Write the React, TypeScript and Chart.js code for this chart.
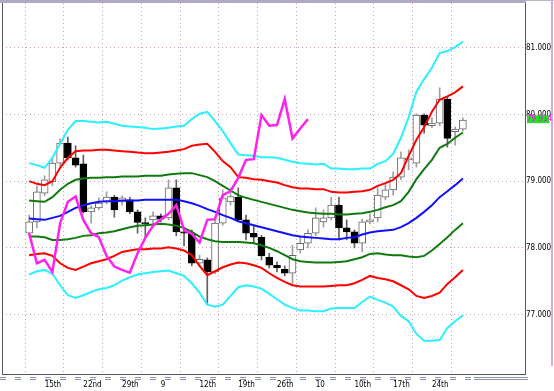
import React, { useEffect, useRef } from "react";
import { Chart, registerables } from "chart.js";

Chart.register(...registerables);

// week ticks (candle index of each Monday) and their labels
const tickIndex = [2, 7, 12, 17, 22, 27, 32, 37, 42, 47, 52];
const tickLabels = ["15th", "22nd", "29th", "9", "12th", "19th", "26th", "10", "10th", "17th", "24th"];
const yTicks = [77, 78, 79, 80, 81];

// daily candles
const opens = [78.22, 78.39, 78.82, 78.99, 79.27, 79.57, 79.35, 79.26, 78.54, 78.60, 78.69, 78.76, 78.69, 78.72, 78.54, 78.38, 78.42, 78.48, 78.45, 78.90,
  78.24, 78.22, 77.77, 77.82, 77.64, 78.37, 78.69, 78.76, 78.42, 78.22, 78.16, 77.86, 77.74, 77.68, 77.62, 77.97, 78.07, 78.22, 78.39, 78.45,
  78.64, 78.30, 78.24, 78.07, 78.39, 78.45, 78.76, 78.87, 79.06, 79.32, 79.27, 79.99, 79.83, 79.87, 80.23, 79.74, 79.78];
const highs = [78.49, 78.93, 79.08, 79.35, 79.63, 79.66, 79.53, 79.39, 78.63, 78.75, 78.84, 78.79, 78.78, 78.76, 78.57, 78.45, 78.54, 78.51, 79.02, 79.02,
  78.30, 78.27, 77.89, 77.85, 78.46, 78.87, 78.90, 78.90, 78.49, 78.33, 78.19, 77.92, 77.79, 77.73, 78.04, 78.16, 78.27, 78.60, 78.57, 78.76,
  78.76, 78.42, 78.27, 78.43, 78.51, 78.90, 78.97, 79.14, 79.44, 79.47, 80.01, 80.01, 79.95, 80.40, 80.26, 79.81, 79.95];
const lows = [78.18, 78.30, 78.78, 78.93, 79.23, 79.32, 79.21, 78.52, 78.37, 78.57, 78.66, 78.46, 78.64, 78.51, 78.22, 78.15, 78.36, 78.39, 78.42, 78.18,
  78.03, 77.73, 77.73, 77.15, 77.61, 78.34, 78.64, 78.39, 78.12, 78.07, 77.82, 77.70, 77.64, 77.58, 77.44, 77.92, 78.00, 78.18, 78.31, 78.42,
  78.12, 78.12, 78.00, 77.94, 78.36, 78.39, 78.72, 78.79, 79.02, 79.17, 79.21, 79.72, 79.80, 79.83, 79.51, 79.54, 79.75];
const closes = [78.39, 78.84, 79.02, 79.27, 79.57, 79.35, 79.24, 78.54, 78.60, 78.67, 78.76, 78.57, 78.75, 78.54, 78.38, 78.36, 78.48, 78.43, 78.90, 78.24,
  78.22, 77.77, 77.83, 77.64, 78.37, 78.75, 78.77, 78.42, 78.22, 78.16, 77.88, 77.74, 77.70, 77.62, 77.89, 78.07, 78.22, 78.45, 78.45, 78.64,
  78.30, 78.24, 78.07, 78.39, 78.42, 78.79, 78.87, 79.06, 79.35, 79.35, 79.99, 79.84, 79.87, 80.23, 79.64, 79.78, 79.914];

// bands
const plus3 = [79.27, 79.24, 79.20, 79.35, 79.56, 79.77, 79.90, 79.90, 79.89, 79.88, 79.89, 79.86, 79.83, 79.82, 79.81, 79.80, 79.78, 79.79, 79.80, 79.82,
  79.83, 79.93, 80.01, 80.04, 79.90, 79.75, 79.57, 79.40, 79.39, 79.38, 79.36, 79.36, 79.35, 79.32, 79.29, 79.27, 79.26, 79.25, 79.26, 79.19,
  79.19, 79.18, 79.18, 79.19, 79.19, 79.26, 79.30, 79.41, 79.65, 79.96, 80.34, 80.53, 80.70, 80.92, 80.95, 81.01, 81.09];
const plus2 = [79.00, 78.96, 78.94, 79.00, 79.20, 79.35, 79.45, 79.46, 79.46, 79.47, 79.47, 79.46, 79.45, 79.44, 79.43, 79.42, 79.42, 79.43, 79.44, 79.46,
  79.48, 79.53, 79.55, 79.56, 79.44, 79.30, 79.21, 79.06, 79.05, 79.03, 79.02, 79.00, 78.98, 78.94, 78.91, 78.89, 78.89, 78.88, 78.88, 78.84,
  78.83, 78.83, 78.84, 78.85, 78.87, 78.93, 78.97, 79.02, 79.12, 79.38, 79.62, 79.81, 80.04, 80.22, 80.27, 80.33, 80.42];
const plus1 = [78.71, 78.70, 78.69, 78.76, 78.87, 78.96, 79.02, 79.04, 79.05, 79.05, 79.06, 79.06, 79.07, 79.07, 79.07, 79.08, 79.08, 79.08, 79.10, 79.11,
  79.12, 79.12, 79.09, 79.06, 79.00, 78.93, 78.86, 78.79, 78.75, 78.72, 78.69, 78.66, 78.63, 78.60, 78.57, 78.55, 78.53, 78.52, 78.51, 78.51,
  78.50, 78.50, 78.51, 78.52, 78.54, 78.57, 78.61, 78.64, 78.70, 78.84, 79.03, 79.18, 79.32, 79.50, 79.56, 79.65, 79.73];
const middle = [78.44, 78.43, 78.42, 78.45, 78.48, 78.54, 78.60, 78.64, 78.67, 78.69, 78.70, 78.70, 78.71, 78.71, 78.71, 78.72, 78.72, 78.72, 78.72, 78.72,
  78.70, 78.67, 78.63, 78.58, 78.54, 78.49, 78.45, 78.40, 78.37, 78.34, 78.31, 78.28, 78.25, 78.22, 78.19, 78.17, 78.16, 78.15, 78.14, 78.13,
  78.13, 78.15, 78.16, 78.20, 78.23, 78.25, 78.26, 78.27, 78.31, 78.37, 78.45, 78.54, 78.64, 78.76, 78.85, 78.94, 79.04];
const minus1 = [78.17, 78.17, 78.16, 78.12, 78.12, 78.13, 78.15, 78.18, 78.19, 78.22, 78.23, 78.25, 78.28, 78.31, 78.33, 78.34, 78.35, 78.36, 78.35, 78.33,
  78.30, 78.24, 78.17, 78.13, 78.10, 78.09, 78.09, 78.09, 78.08, 78.07, 78.04, 78.00, 77.95, 77.89, 77.83, 77.80, 77.79, 77.78, 77.78, 77.78,
  77.79, 77.80, 77.83, 77.86, 77.91, 77.92, 77.90, 77.89, 77.89, 77.87, 77.86, 77.88, 77.96, 78.06, 78.16, 78.27, 78.37];
const minus2 = [77.89, 77.91, 77.92, 77.88, 77.77, 77.70, 77.67, 77.72, 77.77, 77.80, 77.83, 77.88, 77.94, 77.96, 77.98, 77.98, 77.99, 77.99, 78.01, 77.99,
  77.96, 77.89, 77.73, 77.59, 77.65, 77.71, 77.75, 77.78, 77.77, 77.74, 77.70, 77.62, 77.55, 77.49, 77.44, 77.42, 77.42, 77.42, 77.42, 77.43,
  77.44, 77.44, 77.47, 77.52, 77.58, 77.55, 77.53, 77.50, 77.44, 77.38, 77.28, 77.25, 77.28, 77.33, 77.46, 77.56, 77.67];
const minus3 = [77.60, 77.65, 77.67, 77.61, 77.44, 77.29, 77.25, 77.29, 77.34, 77.38, 77.40, 77.44, 77.51, 77.56, 77.60, 77.62, 77.64, 77.65, 77.66, 77.62,
  77.58, 77.47, 77.33, 77.15, 77.12, 77.15, 77.28, 77.41, 77.44, 77.42, 77.39, 77.31, 77.23, 77.15, 77.10, 77.06, 77.06, 77.05, 77.05, 77.09,
  77.10, 77.10, 77.10, 77.19, 77.27, 77.22, 77.18, 77.12, 76.98, 76.90, 76.71, 76.61, 76.61, 76.62, 76.80, 76.90, 76.99];
// lagging span
const lagging = [78.22, 77.77, 77.82, 77.64, 78.37, 78.69, 78.77, 78.42, 78.22, 78.16, 77.88, 77.72, 77.67, 77.63, 77.92, 78.15, 78.33, 78.43, 78.51, 78.64,
  78.27, 78.21, 78.08, 78.42, 78.43, 78.79, 78.85, 79.05, 79.32, 79.33, 79.99, 79.83, 79.84, 80.23, 79.64, 79.79, 79.93];

const FONT = "'Liberation Sans Narrow', 'DejaVu Sans Condensed', 'Liberation Sans', sans-serif";

const pts = (arr: number[]) => arr.map((v, i) => ({ x: i, y: v }));

const lineDs = (label: string, arr: number[], color: string, order: number, width = 2) => ({
  type: "line" as const,
  label,
  data: pts(arr),
  borderColor: color,
  borderWidth: width,
  pointRadius: 0,
  fill: false,
  tension: 0,
  order,
});

const decor = {
  id: "decor",
  beforeDraw(chart: any) {
    const { ctx, width, height } = chart;
    ctx.save();
    ctx.fillStyle = "#ffffff";
    ctx.fillRect(0, 0, width, height);
    // top dotted band
    for (let x = 0; x < 526; x += 2) {
      ctx.fillStyle = (x / 2) % 2 ? "#b8a4c8" : "#a8b0c0";
      ctx.fillRect(x, 0, 2, 3);
    }
    ctx.fillStyle = "#c0b0d0";
    ctx.fillRect(526, 0, 28, 1);
    // right dotted band
    for (let y = 0; y < 366; y += 2) {
      ctx.fillStyle = (y / 2) % 2 ? "#e0a8c8" : "#c8b8e0";
      ctx.fillRect(551, y, 2, 2);
    }
    ctx.restore();
  },
  afterDraw(chart: any) {
    const { ctx, chartArea } = chart;
    const ys = chart.scales.y;
    ctx.save();
    // left frame
    ctx.strokeStyle = "#555555";
    ctx.lineWidth = 1;
    ctx.beginPath();
    ctx.moveTo(chartArea.left + 0.5, chartArea.top);
    ctx.lineTo(chartArea.left + 0.5, chartArea.bottom);
    ctx.stroke();
    // bottom double dashed rule
    ctx.strokeStyle = "#8894b0";
    ctx.setLineDash([6, 9]);
    ctx.beginPath();
    ctx.moveTo(0, 377.5); ctx.lineTo(474, 377.5);
    ctx.moveTo(0, 379.5); ctx.lineTo(474, 379.5);
    ctx.stroke();
    ctx.setLineDash([]);
    ctx.beginPath();
    ctx.moveTo(474, 377.5); ctx.lineTo(528, 377.5);
    ctx.moveTo(474, 379.5); ctx.lineTo(528, 379.5);
    ctx.stroke();
    // current price label
    const last = closes[closes.length - 1];
    const y = ys.getPixelForValue(last);
    ctx.fillStyle = "#22e022";
    ctx.fillRect(chartArea.right + 2, y - 5, 22, 8);
    ctx.fillStyle = "#ff00ff";
    ctx.font = `8px ${FONT}`;
    ctx.textBaseline = "middle";
    ctx.textAlign = "left";
    ctx.fillText(last.toFixed(3), chartArea.right + 2, y - 1);
    ctx.restore();
  },
};

export default function App() {
  const ref = useRef<HTMLCanvasElement | null>(null);
  useEffect(() => {
    if (!ref.current) return;
    const up = closes.map((c, i) => c >= opens[i]);
    const chart = new Chart(ref.current, {
      type: "bar",
      data: {
        datasets: [
          {
            type: "bar",
            label: "wick",
            data: lows.map((l, i) => ({ x: i, y: [l, highs[i]] })),
            backgroundColor: up.map((u) => (u ? "#a0a0a0" : "#606060")),
            borderWidth: 0,
            barThickness: 1,
            grouped: false,
            order: 20,
          } as any,
          {
            type: "bar",
            label: "body",
            data: opens.map((o, i) => ({ x: i, y: [o, closes[i]] })),
            backgroundColor: up.map((u) => (u ? "#ffffff" : "#000000")),
            borderColor: up.map((u) => (u ? "#666666" : "#000000")),
            borderWidth: 1,
            borderSkipped: false,
            barThickness: 7,
            grouped: false,
            order: 19,
          } as any,
          lineDs("+3σ", plus3, "#2af0ff", 8),
          lineDs("-3σ", minus3, "#2af0ff", 7),
          lineDs("+2σ", plus2, "#ff0000", 6),
          lineDs("-2σ", minus2, "#ff0000", 5),
          lineDs("+1σ", plus1, "#107a10", 4),
          lineDs("-1σ", minus1, "#107a10", 3),
          lineDs("MA", middle, "#1010ff", 2),
          lineDs("Lagging", lagging, "#ff22ee", 1, 2.5),
        ],
      },
      options: {
        responsive: false,
        animation: false,
        events: [],
        layout: { padding: { left: 2, top: 3, right: 0, bottom: 0 } },
        plugins: { legend: { display: false }, tooltip: { enabled: false } },
        scales: {
          x: {
            type: "linear",
            min: -0.434,
            max: 60.95,
            afterBuildTicks: (s: any) => {
              s.ticks = tickIndex.map((v) => ({ value: v }));
            },
            afterFit: (s: any) => {
              s.height = 17;
              s.paddingLeft = 0;
              s.paddingRight = 0;
            },
            grid: { color: "#c8a0c0", lineWidth: 1, drawTicks: false },
            border: { display: true, color: "#555555", width: 1, dash: [1, 3] },
            ticks: {
              align: "start",
              padding: 6,
              maxRotation: 0,
              autoSkip: false,
              color: "#000000",
              font: { family: FONT, size: 8 },
              callback: (_v: any, idx: number) => tickLabels[idx] ?? "",
            },
          },
          y: {
            type: "linear",
            position: "right",
            min: 76.11,
            max: 81.67,
            afterBuildTicks: (s: any) => {
              s.ticks = yTicks.map((v) => ({ value: v }));
            },
            afterFit: (s: any) => {
              s.width = 29;
              s.paddingTop = 0;
              s.paddingBottom = 0;
            },
            grid: { color: "#c8a0c0", lineWidth: 1, drawTicks: false },
            border: { display: true, color: "#555555", width: 1, dash: [1, 3] },
            ticks: {
              padding: 1,
              color: "#000000",
              font: { family: FONT, size: 8 },
              callback: (v: any) => Number(v).toFixed(3),
            },
          },
        },
      } as any,
      plugins: [decor],
    });
    return () => chart.destroy();
  }, []);
  return (
    <div style={{ position: "fixed", left: 0, top: 0, width: 554, height: 391, background: "#fff" }}>
      <canvas ref={ref} width={554} height={391} style={{ width: 554, height: 391 }} />
    </div>
  );
}
